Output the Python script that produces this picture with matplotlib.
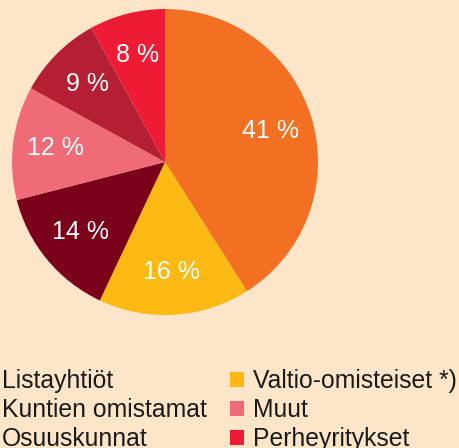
import matplotlib.pyplot as plt
from matplotlib.patches import Patch

plt.rcParams['font.family'] = ['Liberation Sans', 'DejaVu Sans']

# pie order (clockwise from top)
pie_order = ['Listayhtiöt', 'Valtio-omisteiset *)', 'Kuntien omistamat', 'Muut',
             'Osuuskunnat', 'Perheyritykset']
shares = [41, 16, 14, 12, 9, 8]
colors = {
    'Listayhtiöt': '#F36F21',
    'Valtio-omisteiset *)': '#FDB913',
    'Kuntien omistamat': '#7B0019',
    'Muut': '#F06B78',
    'Osuuskunnat': '#B41F33',
    'Perheyritykset': '#ED1B34',
}
legend_order = ['Listayhtiöt', 'Kuntien omistamat', 'Osuuskunnat',
                'Valtio-omisteiset *)', 'Muut', 'Perheyritykset']

W, H = 459, 448
bg = '#FDE5CA'
fig = plt.figure(figsize=(W / 100, H / 100), dpi=100, facecolor=bg)
ax = fig.add_axes([12 / W, 133 / H, 306 / W, 306 / H])
ax.set_facecolor(bg)

wedges, texts, autotexts = ax.pie(
    shares, colors=[colors[c] for c in pie_order], startangle=90, counterclock=False,
    autopct=lambda p: f'{p:.0f} %', pctdistance=0.72, radius=1,
    wedgeprops=dict(linewidth=0),
    textprops=dict(color='white', fontsize=18))
ax.set_xlim(-1, 1)
ax.set_ylim(-1, 1)
ax.set_aspect('equal')
ax.axis('off')

handles = [Patch(facecolor=colors[c], edgecolor='none') for c in legend_order]
fig.legend(handles, legend_order, ncol=2, loc='upper left',
           bbox_to_anchor=(-21 / W, 1 - 369 / H), frameon=False, fontsize=17.8,
           handlelength=0.57, handleheight=0.57, handletextpad=0.36,
           columnspacing=0.95, labelspacing=0.2, borderpad=0, borderaxespad=0,
           labelcolor='#1a1a1a')

fig.savefig('out.png', dpi=100, facecolor=bg)
